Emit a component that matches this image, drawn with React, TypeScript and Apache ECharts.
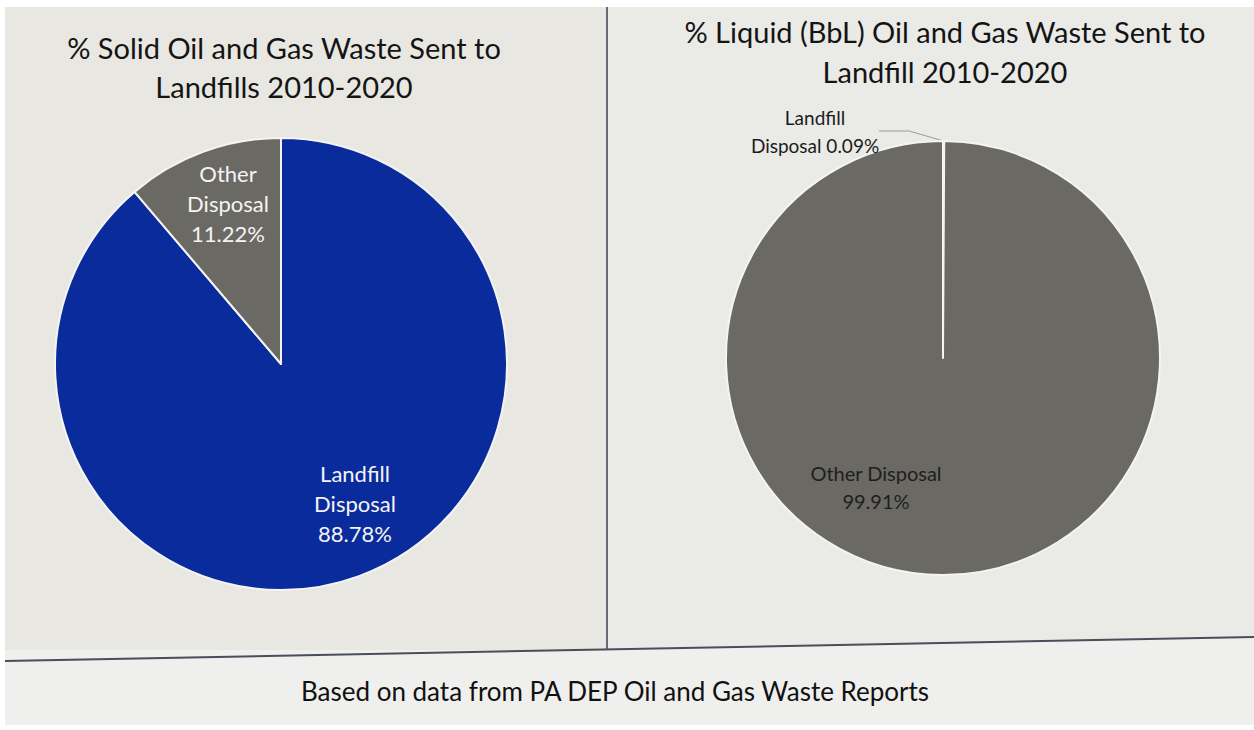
import React, { useEffect, useRef } from "react";
import * as echarts from "echarts";

const solidCategories = ["Landfill Disposal", "Other Disposal"];
const solidValues = [88.78, 11.22];
const liquidCategories = ["Landfill Disposal", "Other Disposal"];
const liquidValues = [0.09, 99.91];

const titleLeft = "% Solid Oil and Gas Waste Sent to\nLandfills 2010-2020";
const titleRight = "% Liquid (BbL) Oil and Gas Waste Sent to\nLandfill 2010-2020";
const footer = "Based on data from PA DEP Oil and Gas Waste Reports";

const FONT = "Lato, 'Open Sans', sans-serif";

export default function App() {
  const ref = useRef<HTMLDivElement>(null);
  useEffect(() => {
    const chart = echarts.init(ref.current!, null, { renderer: "svg" });
    const option: any = {
      animation: false,
      backgroundColor: "#ffffff",
      title: [
        {
          text: titleLeft,
          left: 279,
          top: 23,
          textAlign: "center",
          textStyle: { fontFamily: FONT, fontSize: 29, fontWeight: "normal", color: "#141414", lineHeight: 39, align: "center" },
        },
        {
          text: titleRight,
          left: 940,
          top: 6,
          textAlign: "center",
          textStyle: { fontFamily: FONT, fontSize: 29, fontWeight: "normal", color: "#141414", lineHeight: 40, align: "center" },
        },
        {
          text: footer,
          left: 610,
          top: 673,
          textAlign: "center",
          textStyle: { fontFamily: FONT, fontSize: 26, fontWeight: "normal", color: "#111111" },
        },
      ],
      graphic: [
        { type: "rect", z: -10, silent: true, shape: { x: 5, y: 7, width: 1249, height: 655 }, style: { fill: "#e8e7e2" } },
        { type: "rect", z: -10, silent: true, shape: { x: 608, y: 7, width: 646, height: 645 }, style: { fill: "#eaeae7" } },
        { type: "rect", z: -10, silent: true, shape: { x: 5, y: 650, width: 1249, height: 75 }, style: { fill: "#efefed" } },
        { type: "polygon", z: -9, silent: true, shape: { points: [[5, 661], [1254, 637], [1254, 650], [5, 662]] }, style: { fill: "#efefed" } },
        { type: "line", z: -5, silent: true, shape: { x1: 607, y1: 7, x2: 607, y2: 650 }, style: { stroke: "#3b4058", lineWidth: 1.5 } },
        { type: "line", z: -5, silent: true, shape: { x1: 5, y1: 661, x2: 1254, y2: 637 }, style: { stroke: "#4a4d5a", lineWidth: 2 } },
      ],
      series: [
        {
          type: "pie",
          center: [281, 364],
          radius: 226,
          startAngle: 90,
          clockwise: true,
          itemStyle: { borderColor: "#f4f4f2", borderWidth: 2 },
          label: {
            show: true,
            position: "inside",
            fontFamily: FONT,
            fontSize: 22,
            lineHeight: 30,
            color: "#f4f4f4",
            formatter: (p: any) => p.name.replace(" ", "\n") + "\n" + p.value.toFixed(2) + "%",
          },
          labelLine: { show: false },
          data: solidCategories.map((n, i) => ({
            name: n,
            value: solidValues[i],
            itemStyle: { color: i === 0 ? "#0a2b9c" : "#6b6964" },
          })),
          labelLayout: (p: any) =>
            p.dataIndex === 0 ? { x: 355, y: 503, align: "center", verticalAlign: "middle" } : { x: 228, y: 203, align: "center", verticalAlign: "middle" },
        },
        {
          type: "pie",
          center: [943, 358],
          radius: 217,
          startAngle: 90,
          clockwise: true,
          itemStyle: { borderColor: "#f4f4f2", borderWidth: 2 },
          data: liquidCategories.map((n, i) => ({
            name: n,
            value: liquidValues[i],
            itemStyle: { color: "#6b6964" },
            label:
              i === 0
                ? {
                    show: true,
                    position: "outside",
                    fontFamily: FONT,
                    fontSize: 19,
                    lineHeight: 28,
                    color: "#1c1c1c",
                    align: "center",
                    formatter: (p: any) => "Landfill\n" + "Disposal " + p.value.toFixed(2) + "%",
                  }
                : {
                    show: true,
                    position: "inside",
                    fontFamily: FONT,
                    fontSize: 20,
                    lineHeight: 28,
                    color: "#1e1e1e",
                    formatter: (p: any) => p.name + "\n" + p.value.toFixed(2) + "%",
                  },
            labelLine: i === 0 ? { show: true, lineStyle: { color: "#9a9a96", width: 1 } } : { show: false },
          })),
          labelLayout: (p: any) =>
            p.dataIndex === 0 ? { x: 815, y: 131, align: "center", verticalAlign: "middle" } : { x: 876, y: 487, align: "center", verticalAlign: "middle" },
        },
      ],
    };
    chart.setOption(option);
    return () => chart.dispose();
  }, []);
  return <div ref={ref} style={{ position: "fixed", left: 0, top: 0, width: 1254, height: 730 }} />;
}
